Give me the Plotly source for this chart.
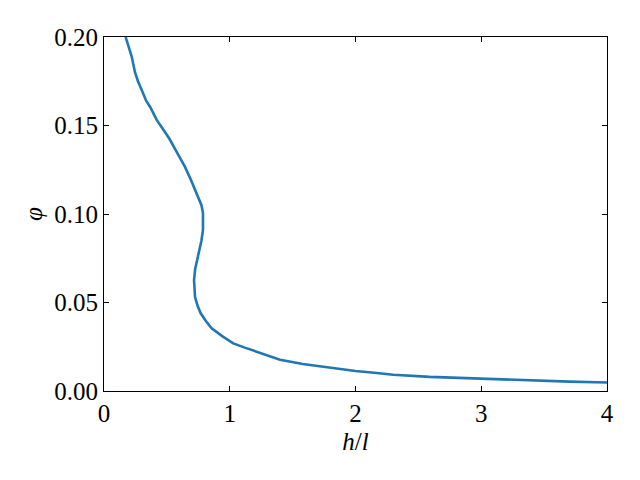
import plotly.graph_objects as go

h_over_l = [0.172, 0.19, 0.22, 0.247, 0.27, 0.30, 0.335, 0.366, 0.42, 0.459, 0.52, 0.58, 0.644,
            0.69, 0.72, 0.748, 0.775, 0.787, 0.787, 0.775, 0.748, 0.725, 0.716, 0.718, 0.724,
            0.745, 0.769, 0.81, 0.856, 0.94, 1.028, 1.12, 1.214, 1.30, 1.40, 1.58, 1.80,
            2.0, 2.15, 2.30, 2.59, 2.99, 3.39, 3.7, 4.0]
phi = [0.200, 0.196, 0.189, 0.180, 0.175, 0.170, 0.164, 0.1606, 0.153, 0.149, 0.1425, 0.1348,
       0.1266, 0.1195, 0.1147, 0.110, 0.105, 0.1006, 0.091, 0.085, 0.0757, 0.069, 0.0627, 0.058,
       0.0531, 0.048, 0.0439, 0.0395, 0.0354, 0.031, 0.0269, 0.0245, 0.0222, 0.020, 0.0177,
       0.0153, 0.0130, 0.0113, 0.0103, 0.0092, 0.0080, 0.0069, 0.0060, 0.0053, 0.0048]

x_ticks = [0, 1, 2, 3, 4]
y_ticks = [0.00, 0.05, 0.10, 0.15, 0.20]

fig = go.Figure()
fig.add_trace(go.Scatter(x=h_over_l, y=phi, mode="lines",
                         line=dict(color="#1f77b4", width=2.6), showlegend=False))

axis_common = dict(showline=True, linecolor="black", linewidth=1, mirror="ticks",
                   ticks="inside", ticklen=5, tickwidth=1, tickcolor="black",
                   showgrid=False, zeroline=False,
                   tickfont=dict(family="Liberation Serif", size=25, color="black"))

fig.update_layout(
    width=640, height=480,
    margin=dict(l=96, r=41, t=29, b=97),
    paper_bgcolor="white", plot_bgcolor="white",
    font=dict(family="Liberation Serif", color="black"),
    xaxis=dict(range=[0, 4], tickvals=x_ticks, ticktext=[str(v) for v in x_ticks],
               title=dict(text="<i>h</i>/<i>l</i>", font=dict(size=25), standoff=6),
               **axis_common),
    yaxis=dict(range=[0, 0.20], tickvals=y_ticks, ticktext=[f"{v:.2f}" for v in y_ticks],
               title=dict(text="<i>φ</i>", font=dict(size=25), standoff=4),
               **axis_common),
)

fig.write_html("out.html")
